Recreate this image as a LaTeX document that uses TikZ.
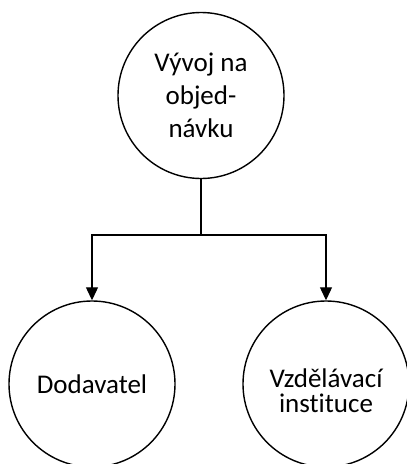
\documentclass[tikz,border=0pt]{standalone}
\usepackage{fontspec}
\setmainfont[Ligatures=NoCommon]{Carlito}
\usetikzlibrary{arrows.meta}
\begin{document}
\begin{tikzpicture}[x=1pt,y=-1pt,
  bubble/.style={draw,line width=1.4pt,circle,minimum size=166pt,inner sep=0pt,align=center,font=\fontsize{27}{33}\selectfont},
  txt/.style={align=center,inner sep=0pt,font=\fontsize{27}{25}\selectfont},
  link/.style={line width=1.2pt},
  arr/.style={line width=1.2pt,-{Triangle[length=13pt,width=12pt]}}]
\useasboundingbox (0,0) rectangle (407,464);
\node[bubble] (top) at (201,95.5) {Vývoj na\\objed-\\návku};
\node[bubble] (dod) at (92,384) {Dodavatel};
\node[bubble] (vzd) at (326,384) {};
\node[txt] (vzdt) at (326,391) {Vzdělávací\\instituce};
\coordinate (j) at (201,235);
\draw[link] (top.south) -- (j);
\draw[arr] (j) -| (dod.north);
\draw[arr] (j) -| (vzd.north);
\end{tikzpicture}
\end{document}
